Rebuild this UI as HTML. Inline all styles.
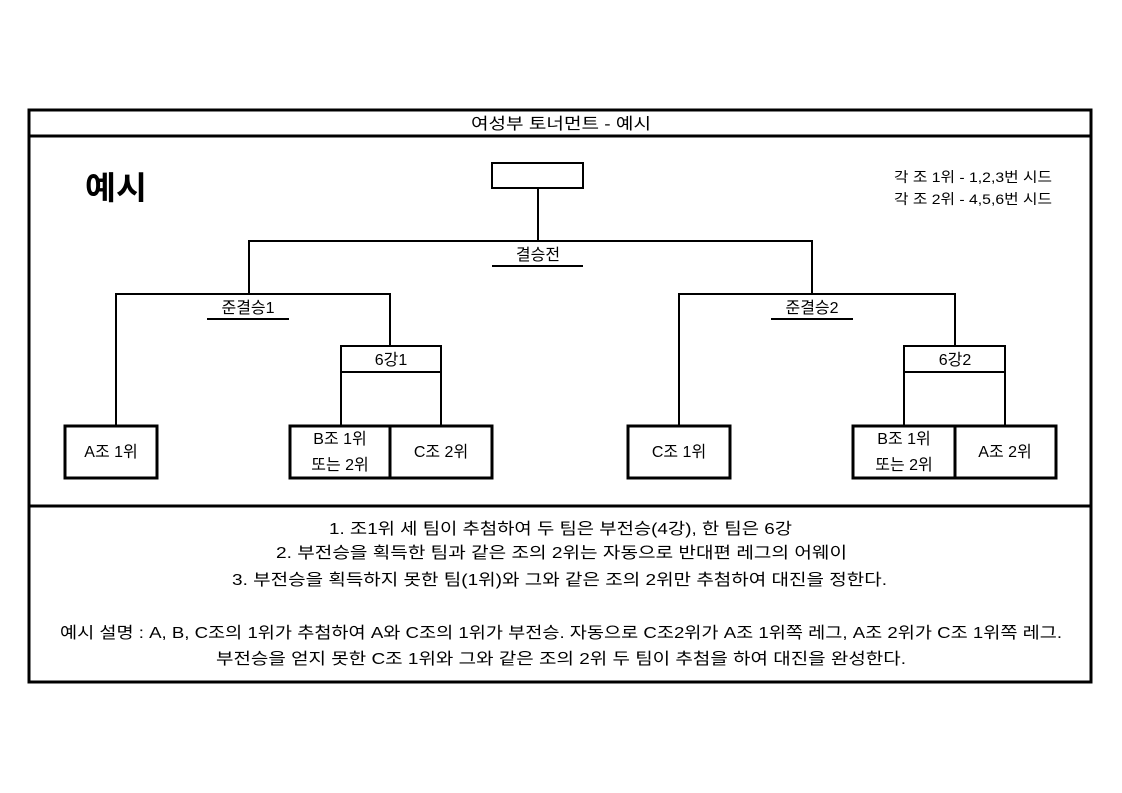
<!DOCTYPE html>
<html><head><meta charset="utf-8"><style>
html,body{margin:0;padding:0;background:#fff;}
svg{display:block;}
text{font-family:"Liberation Sans","Noto Sans CJK KR",sans-serif;fill:#000;}
</style></head><body>
<svg width="1122" height="793" viewBox="0 0 1122 793" xmlns="http://www.w3.org/2000/svg">
<g fill="none" stroke="#000">
<rect x="29" y="110" width="1062" height="572" stroke-width="3"/>
<line x1="29" y1="136" x2="1091" y2="136" stroke-width="3"/>
<line x1="29" y1="506" x2="1091" y2="506" stroke-width="3"/>
<g stroke-width="2">
<rect x="492" y="163" width="91" height="25"/>
<line x1="538" y1="188" x2="538" y2="241"/>
<polyline points="249,294 249,241 812,241 812,294"/>
<line x1="492" y1="266" x2="583" y2="266"/>
<polyline points="116,425 116,294 390,294 390,346"/>
<line x1="207" y1="319" x2="289" y2="319"/>
<rect x="341" y="346" width="100" height="26"/>
<line x1="341" y1="372" x2="341" y2="425"/>
<line x1="441" y1="372" x2="441" y2="425"/>
<polyline points="679,425 679,294 955,294 955,346"/>
<line x1="771" y1="319" x2="853" y2="319"/>
<rect x="904" y="346" width="101" height="26"/>
<line x1="904" y1="372" x2="904" y2="425"/>
<line x1="1005" y1="372" x2="1005" y2="425"/>
</g>
<g stroke-width="3">
<rect x="65" y="426" width="92" height="52"/>
<rect x="290" y="426" width="100" height="52"/>
<rect x="390" y="426" width="102" height="52"/>
<rect x="628" y="426" width="102" height="52"/>
<rect x="853" y="426" width="102" height="52"/>
<rect x="955" y="426" width="101" height="52"/>
</g>
</g>
<text x="561" y="129" font-size="16" text-anchor="middle" textLength="180" lengthAdjust="spacingAndGlyphs">여성부 토너먼트 - 예시</text>
<text x="85" y="199" font-size="32" font-weight="bold" textLength="62" lengthAdjust="spacingAndGlyphs">예시</text>
<text x="894" y="182" font-size="14" textLength="158" lengthAdjust="spacingAndGlyphs">각 조 1위 - 1,2,3번 시드</text>
<text x="894" y="204" font-size="14" textLength="158" lengthAdjust="spacingAndGlyphs">각 조 2위 - 4,5,6번 시드</text>
<g font-size="16" text-anchor="middle">
<text x="538" y="260">결승전</text>
<text x="248" y="313">준결승1</text>
<text x="812" y="313">준결승2</text>
<text x="391" y="365">6강1</text>
<text x="955" y="365">6강2</text>
<text x="111" y="457">A조 1위</text>
<text x="340" y="444">B조 1위</text>
<text x="340" y="470">또는 2위</text>
<text x="441" y="457">C조 2위</text>
<text x="679" y="457">C조 1위</text>
<text x="904" y="444">B조 1위</text>
<text x="904" y="470">또는 2위</text>
<text x="1005" y="457">A조 2위</text>
</g>
<g font-size="16">
<text x="329" y="534" textLength="463" lengthAdjust="spacingAndGlyphs">1. 조1위 세 팀이 추첨하여 두 팀은 부전승(4강), 한 팀은 6강</text>
<text x="276" y="558" textLength="571" lengthAdjust="spacingAndGlyphs">2. 부전승을 획득한 팀과 같은 조의 2위는 자동으로 반대편 레그의 어웨이</text>
<text x="232" y="585" textLength="655" lengthAdjust="spacingAndGlyphs">3. 부전승을 획득하지 못한 팀(1위)와 그와 같은 조의 2위만 추첨하여 대진을 정한다.</text>
<text x="60" y="638" textLength="1002" lengthAdjust="spacingAndGlyphs">예시 설명 : A, B, C조의 1위가 추첨하여 A와 C조의 1위가 부전승. 자동으로 C조2위가 A조 1위쪽 레그, A조 2위가 C조 1위쪽 레그.</text>
<text x="216" y="664" textLength="690" lengthAdjust="spacingAndGlyphs">부전승을 얻지 못한 C조 1위와 그와 같은 조의 2위 두 팀이 추첨을 하여 대진을 완성한다.</text>
</g>
</svg>
</body></html>
